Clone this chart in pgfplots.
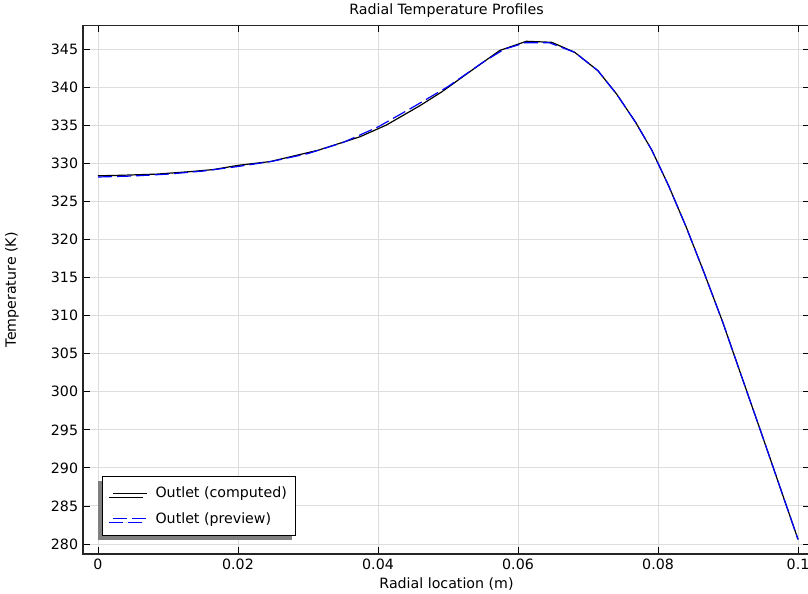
\documentclass[border=0pt]{standalone}
\usepackage{pgfplots}
\pgfplotsset{compat=1.18}
\usepackage{fontspec}
\setmainfont{DejaVu Sans}
\usetikzlibrary{shadows}

\definecolor{gridgray}{RGB}{221,221,221}
\definecolor{shadowgray}{RGB}{128,128,128}

\begin{document}
\fontsize{14.2bp}{17bp}\selectfont
\begin{tikzpicture}
\begin{axis}[
  at={(0,0)}, anchor=south west,
  scale only axis,
  width=727bp, height=528.5bp,
  xmin=-0.002143, xmax=0.10171,
  ymin=278.686, ymax=348.127,
  xtick={0,0.02,0.04,0.06,0.08,0.1},
  ytick={280,285,290,295,300,305,310,315,320,325,330,335,340,345},
  scaled x ticks=false,
  /pgf/number format/assume math mode=true,
  xticklabel style={/pgf/number format/fixed, /pgf/number format/precision=2},
  tick align=inside,
  major tick length=7bp,
  tick style={black, line width=0.8bp},
  axis line style={black!85, line width=1.2bp},
  grid=major,
  major grid style={gridgray, line width=0.9bp},
  title={Radial Temperature Profiles},
  every axis title/.style={at={(axis description cs:0.5,1)}, anchor=center, yshift=14.5bp},
  xlabel={Radial location (m)},
  xlabel style={at={(axis description cs:0.5,0)}, anchor=center, yshift=-30bp},
  ylabel={Temperature (K)},
  ylabel style={at={(axis description cs:-0.0977,0.5)}, anchor=center},
  legend cell align=left,
  legend style={at={(axis description cs:0.0257,0.034)}, anchor=south west,
    draw=black, fill=white, line width=0.8bp,
    drop shadow={shadow xshift=-4bp, shadow yshift=-4bp, fill=shadowgray, opacity=1},
    inner xsep=7bp, inner ysep=8.5bp, row sep=8.3bp},
  legend image code/.code={\path (0bp,0bp) (43.3bp,0bp); \draw[#1] (3.3bp,0bp) -- (37.3bp,0bp);},
]
\addplot[black, line width=1.2bp] coordinates {
  (0,328.38) (0.0035,328.45) (0.0084,328.6) (0.0131,328.92) (0.0165,329.2)
  (0.02,329.75) (0.0246,330.25) (0.0315,331.75) (0.0374,333.5) (0.0412,335.05)
  (0.046,337.6) (0.0491,339.4) (0.0531,342.05) (0.0574,344.85) (0.0612,346.05)
  (0.0648,345.92) (0.0681,344.6) (0.0714,342.2) (0.0741,339.1) (0.0768,335.4)
  (0.0791,331.77) (0.0815,327.1) (0.084,321.7) (0.0866,315.6) (0.0893,309.0)
  (0.0917,302.64) (0.0946,295.0) (0.097,288.6) (0.1,280.6)
};
\addlegendentry{Outlet (computed)}
\addplot[blue, line width=1.2bp, dash pattern=on 14bp off 5bp] coordinates {
  (0,328.22) (0.005,328.35) (0.01,328.6) (0.015,329.0) (0.02,329.6)
  (0.025,330.3) (0.03,331.3) (0.035,332.75) (0.04,334.8) (0.045,337.4)
  (0.05,340.1) (0.055,343.3) (0.058,345.0) (0.061,345.85) (0.0645,345.85)
  (0.0681,344.6) (0.0714,342.2) (0.0741,339.1) (0.0768,335.4)
  (0.0791,331.77) (0.0815,327.1) (0.084,321.7) (0.0866,315.6) (0.0893,309.0)
  (0.0917,302.64) (0.0946,295.0) (0.097,288.6) (0.1,280.6)
};
\addlegendentry{Outlet (preview)}
\end{axis}
\pgfresetboundingbox
\path (-83bp,-40bp) rectangle (725bp,554bp);
\end{tikzpicture}
\end{document}
